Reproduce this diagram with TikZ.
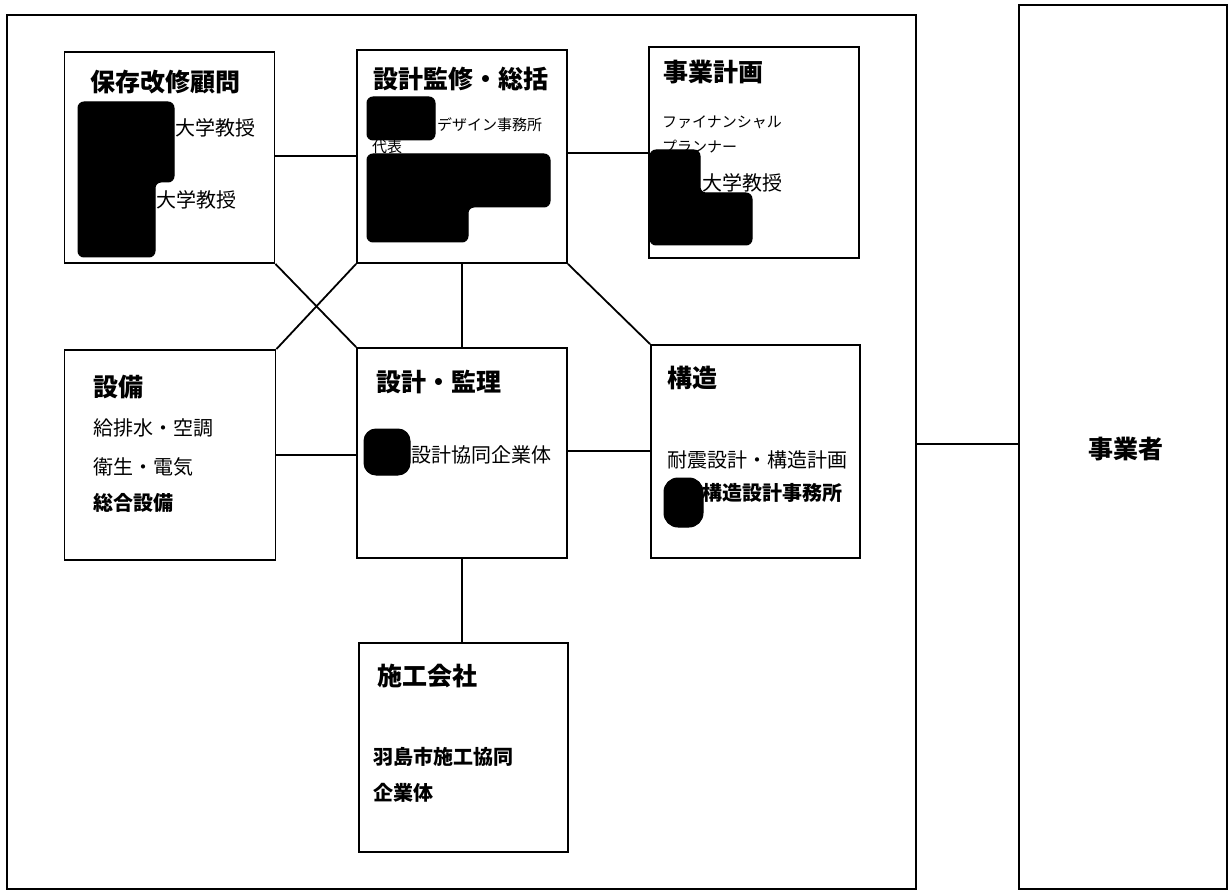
\documentclass[tikz,border=0pt]{standalone}
\usepackage{fontspec}
\setmainfont{Noto Sans CJK JP}
\begin{document}
\begin{tikzpicture}[x=1pt,y=-1pt,
  frame/.style={draw, line width=1.8pt, inner sep=0pt},
  conn/.style={line width=1.8pt},
  ttl/.style={anchor=west, inner sep=0pt, font=\fontsize{25}{30}\selectfont\bfseries},
  txt/.style={anchor=west, inner sep=0pt, font=\fontsize{20}{24}\selectfont},
  txtb/.style={anchor=west, inner sep=0pt, font=\fontsize{20}{24}\selectfont\bfseries},
  sml/.style={anchor=west, inner sep=0pt, font=\fontsize{15}{18}\selectfont},
  blot/.style={fill=black, draw=black, line width=1pt, rounded corners=6pt}]
\useasboundingbox (0,0) rectangle (1229,896);

% boxes
\node[frame, minimum width=909, minimum height=874] (outer) at (461.5,452) {};
\node[frame, minimum width=208, minimum height=884] (owner) at (1123,447) {};
\node[frame, minimum width=210, minimum height=211] (hozon) at (169.5,157.5) {};
\node[frame, minimum width=210, minimum height=213] (kanshu) at (462,156.5) {};
\node[frame, minimum width=210, minimum height=211] (jigyo) at (754,152.5) {};
\node[frame, minimum width=211, minimum height=210] (setsubi) at (170,455) {};
\node[frame, minimum width=210, minimum height=210] (kanri) at (462,453) {};
\node[frame, minimum width=209, minimum height=213] (kozo) at (755.5,451.5) {};
\node[frame, minimum width=209, minimum height=209] (sekou) at (463.5,747.5) {};

% connectors
\draw[conn] (hozon.east |- 0,156) -- (kanshu.west |- 0,156);
\draw[conn] (kanshu.east |- 0,153) -- (jigyo.west |- 0,153);
\draw[conn] (hozon.south east) -- (kanri.north west);
\draw[conn] (kanshu.south west) -- (setsubi.north east);
\draw[conn] (kanshu.south) -- (kanri.north);
\draw[conn] (kanshu.south east) -- (kozo.north west);
\draw[conn] (setsubi.east |- 0,455) -- (kanri.west |- 0,455);
\draw[conn] (kanri.east |- 0,451) -- (kozo.west |- 0,451);
\draw[conn] (kanri.south) -- (kanri.south |- sekou.north);
\draw[conn] (outer.east |- 0,444) -- (owner.west |- 0,444);

% texts
\node[ttl] (t1) at (90,82) {保存改修顧問};
\node[txt] (t1a) at (175,128) {大学教授};
\node[txt] (t1b) at (156,200) {大学教授};

\node[ttl] (t2) at (373,79) {設計監修・総括};
\node[sml] (t2a) at (437,125) {デザイン事務所};
\node[sml] (t2b) at (372,147) {代表};

\node[ttl] (t3) at (663,72) {事業計画};
\node[sml] (t3a) at (662,122) {ファイナンシャル};
\node[sml] (t3b) at (662,147) {プランナー};
\node[txt] (t3c) at (702,183) {大学教授};

\node[ttl] (t4) at (93,387) {設備};
\node[txt] (t4a) at (93,428) {給排水・空調};
\node[txt] (t4b) at (93,467) {衛生・電気};
\node[txtb] (t4c) at (93,503) {総合設備};

\node[ttl] (t5) at (376,382) {設計・監理};
\node[txt] (t5a) at (411,455) {設計協同企業体};

\node[ttl] (t6) at (667,378) {構造};
\node[txt] (t6a) at (667,460) {耐震設計・構造計画};
\node[txtb] (t6b) at (702,493) {構造設計事務所};

\node[ttl] (t7) at (377,676) {施工会社};
\node[txtb] (t7a) at (373,757) {羽島市施工協同};
\node[txtb] (t7b) at (373,793) {企業体};

\node[ttl, anchor=center] (t8) at (1126,449) {事業者};

% redaction marks
\draw[blot] (78,102) -- (174,102) -- (174,182) -- (155,182) -- (155,257) -- (78,257) -- cycle;
\draw[blot] (367,97) rectangle (435,140);
\draw[blot] (367,154) -- (550,154) -- (550,207) -- (468,207) -- (468,242) -- (367,242) -- cycle;
\draw[blot] (650,150) -- (700,150) -- (700,193) -- (752,193) -- (752,245) -- (650,245) -- cycle;
\draw[blot, rounded corners=12pt] (364,429) rectangle (410,475);
\draw[blot, rounded corners=14pt] (664,478) rectangle (703,527);
\end{tikzpicture}
\end{document}
